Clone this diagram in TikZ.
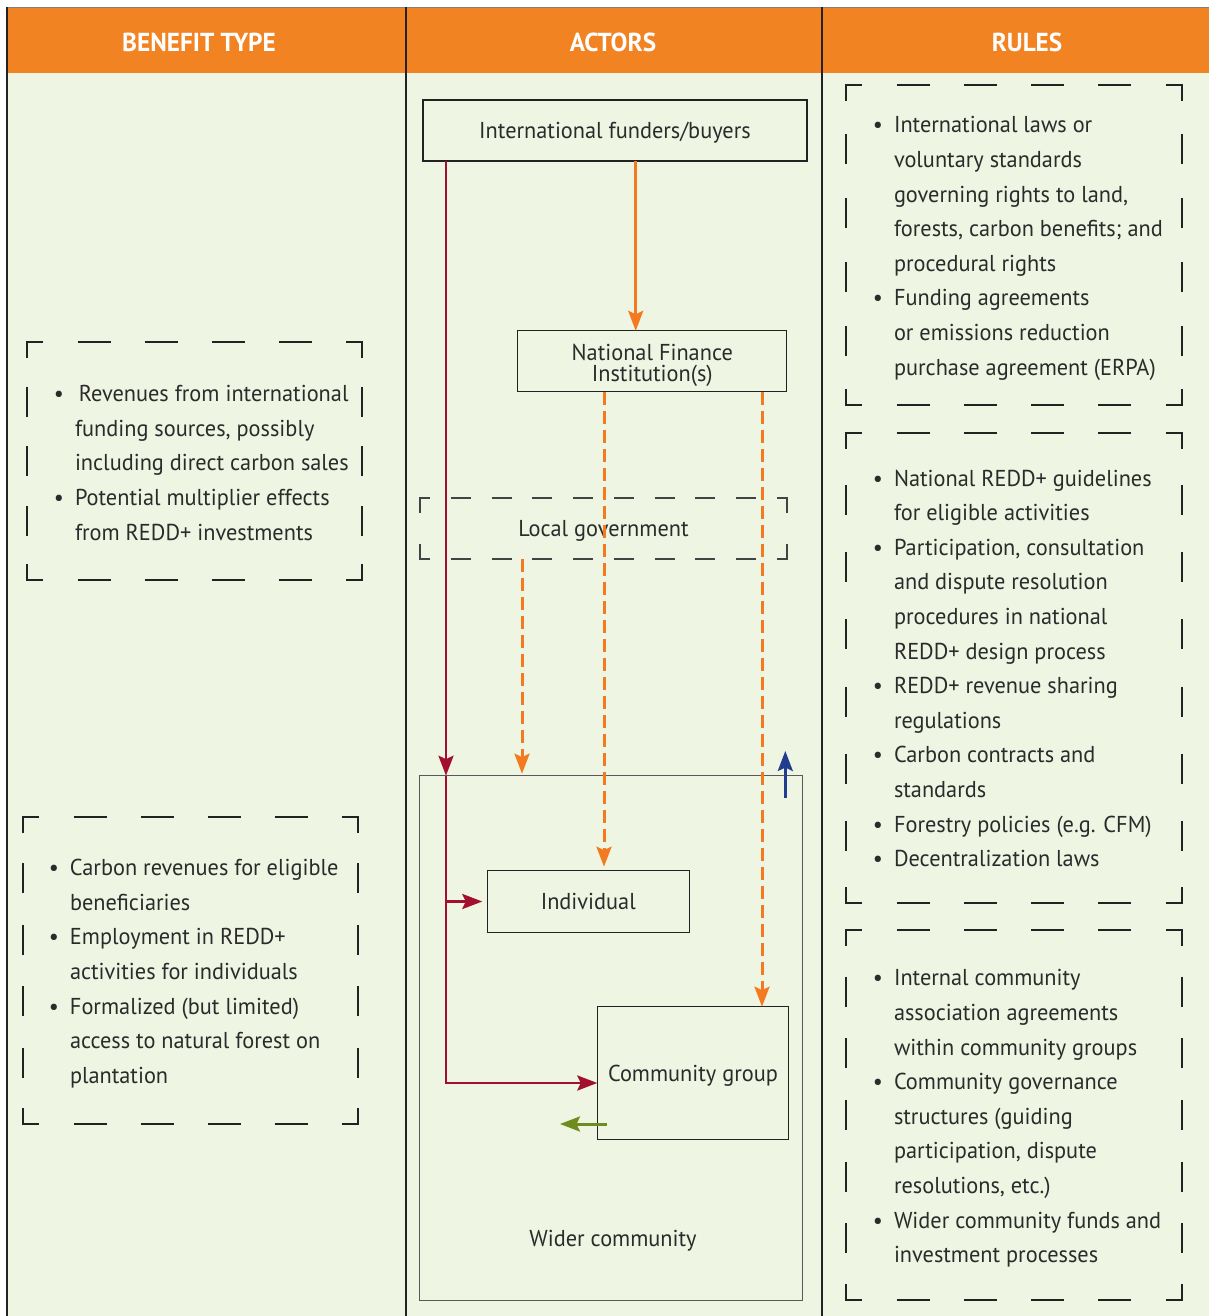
\documentclass[tikz,border=0pt]{standalone}
\usepackage{fontspec}
\setmainfont{PT Sans}[FakeStretch=0.97]
\usetikzlibrary{arrows.meta,calc}
\definecolor{bg}{HTML}{EEF5E3}
\definecolor{hdr}{HTML}{F28322}
\definecolor{txt}{HTML}{2B2B2B}
\definecolor{redar}{HTML}{A3102F}
\definecolor{orar}{HTML}{F47A20}
\definecolor{bluear}{HTML}{213E8E}
\definecolor{greenar}{HTML}{6F8D1E}
\definecolor{frm}{HTML}{222222}
\newcommand\bul{\llap{\textbullet\hspace{11pt}}}
\newcommand\bodyfont{\fontsize{23}{34.6}\selectfont}
% #1 node, #2 nh, #3 nv, #4 h arm, #5 v arm, #6 h dash, #7 v dash, #8 style
\newcommand\cornerframe[8]{%
  \draw[#8] ($(#1.north west)+(#4,0)$) -- (#1.north west) -- ($(#1.north west)+(0,#5)$);
  \draw[#8] ($(#1.north east)+(-#4,0)$) -- (#1.north east) -- ($(#1.north east)+(0,#5)$);
  \draw[#8] ($(#1.south west)+(#4,0)$) -- (#1.south west) -- ($(#1.south west)+(0,-#5)$);
  \draw[#8] ($(#1.south east)+(-#4,0)$) -- (#1.south east) -- ($(#1.south east)+(0,-#5)$);
  \foreach \i in {1,...,#2}{
    \draw[#8] ($(#1.north west)!{\i/(#2+1)}!(#1.north east)+(-#6/2,0)$) -- ++(#6,0);
    \draw[#8] ($(#1.south west)!{\i/(#2+1)}!(#1.south east)+(-#6/2,0)$) -- ++(#6,0);
  }
  \ifnum#3>0
  \foreach \i in {1,...,#3}{
    \draw[#8] ($(#1.north west)!{\i/(#3+1)}!(#1.south west)+(0,-#7/2)$) -- ++(0,#7);
    \draw[#8] ($(#1.north east)!{\i/(#3+1)}!(#1.south east)+(0,-#7/2)$) -- ++(0,#7);
  }
  \fi
}
\begin{document}
\begin{tikzpicture}[x=1pt,y=-1pt,
  fbox/.style={rectangle,draw=none,inner sep=0,outer sep=0},
  dframe/.style={draw=frm,line width=2pt,line cap=butt,line join=miter},
  lgframe/.style={draw=frm!85,line width=1.3pt,line cap=butt,line join=miter},
  actor/.style={rectangle,draw=frm,line width=1.2pt,inner sep=0,outer sep=0,text=txt,font=\bodyfont,text height=16pt,text depth=0pt},
  bodytext/.style={inner sep=0,outer sep=0,anchor=base west,align=left,text=txt,font=\bodyfont},
  headtext/.style={text=white,font=\fontsize{26}{30}\selectfont\bfseries},
  arrowtip/.style={-{Stealth[length=20pt,width=15pt,inset=3.5pt]}},
  redline/.style={draw=redar,line width=2.8pt},
  orline/.style={draw=orar,line width=2.8pt},
  ordash/.style={draw=orar,line width=3pt,dash pattern=on 13pt off 6pt},
  blueline/.style={draw=bluear,line width=2.8pt},
  greenline/.style={draw=greenar,line width=3pt}]
\useasboundingbox (0,0) rectangle (1209,1316);
\fill[white] (0,0) rectangle (1209,1316);
\fill[bg] (7,73) rectangle (1209,1316);
\fill[hdr] (7,8) rectangle (1209,73);
\draw[gray,line width=1pt] (7,7.5) -- (1209,7.5);
\draw[frm,line width=2.5pt] (7,7) -- (7,1316);
\draw[frm,line width=2.5pt] (406,7) -- (406,1316);
\draw[frm,line width=2.5pt] (822,7) -- (822,1316);

\node[headtext] (h1) at (199,42) {BENEFIT TYPE};
\node[headtext] (h2) at (613,42) {ACTORS};
\node[headtext] (h3) at (1027,42) {RULES};

% benefit frames (text nodes anchored at the baseline of their last line)
\node[fbox,minimum width=335,minimum height=238] (fl1) at (194.5,461) {};
\cornerframe{fl1}{4}{3}{16}{16}{33}{30}{dframe}
\node[bodytext] (tl1) at (75,540) {\bul\hspace{4pt}Revenues from international\\funding sources, possibly\\including direct carbon sales\\\bul Potential multiplier effects\\from REDD+ investments};

\node[fbox,minimum width=335,minimum height=307] (fl2) at (190.5,970.5) {};
\cornerframe{fl2}{4}{4}{16}{16}{33}{30}{dframe}
\node[bodytext] (tl2) at (70,1083.3) {\bul Carbon revenues for eligible\\beneficiaries\\\bul Employment in REDD+\\activities for individuals\\\bul Formalized (but limited)\\access to natural forest on\\plantation};

% rules frames
\node[fbox,minimum width=336,minimum height=320] (fr1) at (1014,245) {};
\cornerframe{fr1}{4}{4}{16}{16}{33}{30}{dframe}
\node[bodytext] (tr1) at (894,375) {\bul International laws or\\voluntary standards\\governing rights to land,\\forests, carbon benefits; and\\procedural rights\\\bul Funding agreements\\or emissions reduction\\purchase agreement (ERPA)};

\node[fbox,minimum width=336,minimum height=470] (fr2) at (1014,668) {};
\cornerframe{fr2}{4}{6}{16}{16}{33}{30}{dframe}
\node[bodytext] (tr2) at (894,866.7) {\bul National REDD+ guidelines\\for eligible activities\\\bul Participation, consultation\\and dispute resolution\\procedures in national\\REDD+ design process\\\bul REDD+ revenue sharing\\regulations\\\bul Carbon contracts and\\standards\\\bul Forestry policies (e.g. CFM)\\\bul Decentralization laws};

\node[fbox,minimum width=336,minimum height=370] (fr3) at (1014,1115) {};
\cornerframe{fr3}{4}{5}{16}{16}{33}{30}{dframe}
\node[bodytext] (tr3) at (894,1262.7) {\bul Internal community\\association agreements\\within community groups\\\bul Community governance\\structures (guiding\\participation, dispute\\resolutions, etc.)\\\bul Wider community funds and\\investment processes};

% actors
\node[actor,minimum width=384,minimum height=61] (ifb) at (615,130.5) {International funders/buyers};
\node[rectangle,draw=frm,line width=1.2pt,inner sep=0,outer sep=0,text=txt,minimum width=269,minimum height=61,align=center,font=\fontsize{23}{21}\selectfont] (nfi) at (652.3,361.3) {\rule{0pt}{24pt}National Finance\\Institution(s)};
\node[fbox,minimum width=367,minimum height=61,text=txt,font=\bodyfont,text height=16pt,text depth=0pt] (lg) at (603.5,528.5) {Local government};
\cornerframe{lg}{8}{0}{10}{15}{20}{20}{lgframe}
\node[actor,draw=frm!75,minimum width=383,minimum height=525] (wc) at (611.3,1038.2) {};
\node[inner sep=0,anchor=base,text=txt,font=\bodyfont] (wcl) at (613,1246.7) {Wider community};
\node[actor,minimum width=202,minimum height=61.6] (ind) at (588.3,901.5) {Individual};
\node[actor,minimum width=191.4,minimum height=132.6] (cg) at (693,1073) {Community group};

% connectors
\coordinate (rx) at (446,0);
\coordinate (cgin) at ($(cg.west)+(0,10)$);
\draw[redline,arrowtip] (ifb.south -| rx) -- (wc.north -| rx);
\draw[redline,arrowtip] (wc.north -| rx) -- (rx |- cgin) -- (cgin);
\draw[redline,arrowtip] (rx |- ind.west) -- ($(ind.west)+(-5,0)$);

\coordinate (ox) at (635.7,0);
\draw[orline,arrowtip] (ifb.south -| ox) -- (nfi.north -| ox);
\coordinate (dx1) at (604,0);
\coordinate (dx2) at (762,0);
\coordinate (dx3) at (522,0);
\draw[ordash,arrowtip,shorten >=4pt] (nfi.south -| dx1) -- (ind.north -| dx1);
\draw[ordash,arrowtip] (nfi.south -| dx2) -- (cg.north -| dx2);
\draw[ordash,arrowtip,shorten >=2pt] (lg.south -| dx3) -- (wc.north -| dx3);

\coordinate (bs) at (785.3,798);
\coordinate (be) at (785.3,751);
\draw[blueline,arrowtip] (bs) -- (be);
\coordinate (gs) at (607,1124);
\coordinate (ge) at (560,1124);
\draw[greenline,arrowtip] (gs) -- (ge);
\end{tikzpicture}
\end{document}
